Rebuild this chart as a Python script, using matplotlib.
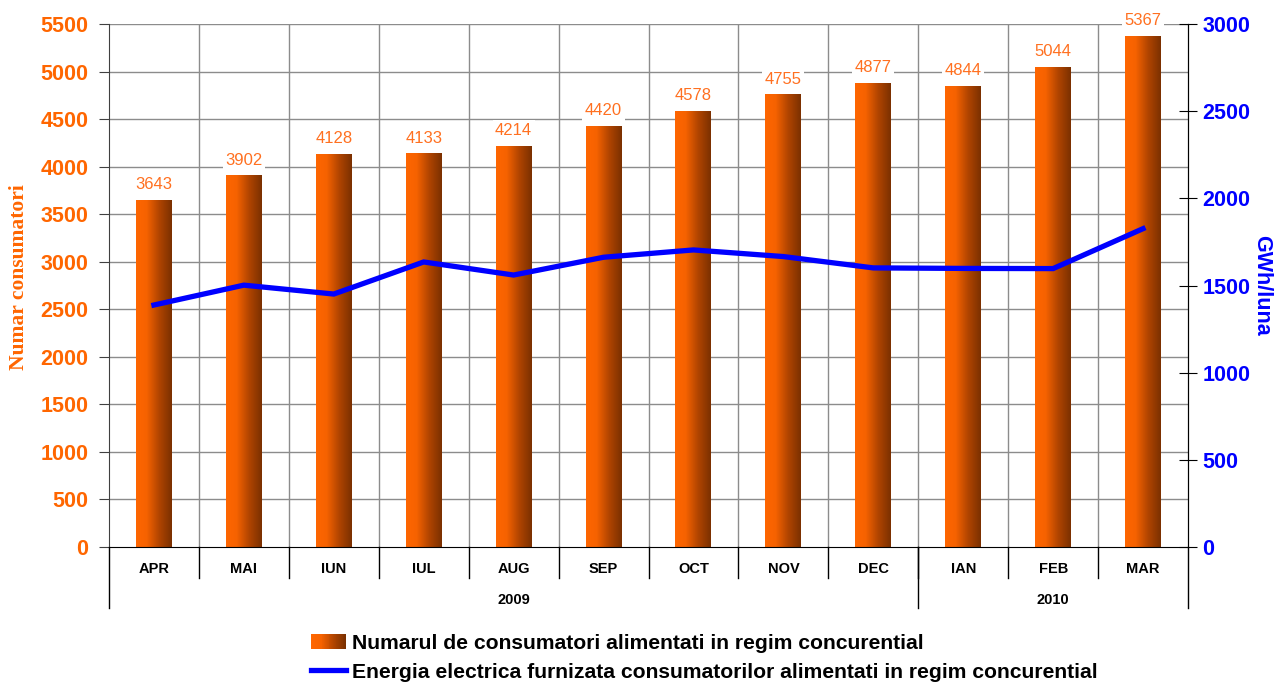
import matplotlib
matplotlib.use("Agg")
import matplotlib.pyplot as plt
import numpy as np
from matplotlib.colors import LinearSegmentedColormap
from matplotlib.legend_handler import HandlerBase
from matplotlib.patches import Rectangle
from matplotlib.lines import Line2D
import matplotlib.transforms as mtransforms

months = ["APR", "MAI", "IUN", "IUL", "AUG", "SEP", "OCT", "NOV", "DEC", "IAN", "FEB", "MAR"]
years = ["2009", "2010"]
year_counts = [9, 3]
consumers = [3643, 3902, 4128, 4133, 4214, 4420, 4578, 4755, 4877, 4844, 5044, 5367]
energy = [1388, 1502, 1451, 1635, 1560, 1662, 1704, 1666, 1601, 1598, 1597, 1826]

ORANGE = "#FF6600"
LABEL_ORANGE = "#FF7020"
BLUE = "#0000FF"
GRID = "#8c8c8c"
FONT = "Liberation Sans"

cmap = LinearSegmentedColormap.from_list(
    "bar", [(0, "#FF6600"), (0.3, "#F56200"), (0.65, "#B04400"), (1, "#7A3000")])

fig = plt.figure(figsize=(12.74, 6.84), dpi=100)
ax = fig.add_axes([109/1274, 1-547/684, (1188-109)/1274, (547-24)/684])
ax2 = ax.twinx()

n = len(months)
x = np.arange(n)
ax.set_xlim(-0.5, n-0.5)
ax.set_ylim(0, 5500)
ax2.set_ylim(0, 3000)

# grid
for yv in np.arange(500, 5501, 500):
    ax.axhline(yv, color=GRID, lw=1, zorder=0)
for xv in x[:-1] + 0.5:
    ax.axvline(xv, color=GRID, lw=1, zorder=0)

# gradient bars
w = 0.4
grad = np.linspace(0, 1, 256).reshape(1, -1)
for xi, v in zip(x, consumers):
    ax.imshow(grad, cmap=cmap, aspect="auto", extent=[xi - w/2, xi + w/2, 0, v],
              zorder=2, interpolation="bilinear")
    ax.annotate(str(v), (xi, v), xytext=(0, 6), textcoords="offset points",
                ha="center", va="bottom", color=LABEL_ORANGE, fontsize=12,
                family=FONT, zorder=5, annotation_clip=False,
                bbox=dict(boxstyle="square,pad=0.15", fc="white", ec="none"))
ax.set_xlim(-0.5, n-0.5)
ax.set_ylim(0, 5500)

ax2.plot(x, energy, color=BLUE, lw=3.8, solid_joinstyle="miter", zorder=4)

# axes styling
ax.set_yticks(np.arange(0, 5501, 500))
ax.set_yticklabels([str(v) for v in np.arange(0, 5501, 500)], color=ORANGE,
                   fontsize=15.5, fontweight="bold", family=FONT)
ax.tick_params(axis="y", direction="out", length=7, color="#404040", pad=8)
ax2.set_yticks(np.arange(0, 3001, 500))
ax2.set_yticklabels([str(v) for v in np.arange(0, 3001, 500)], color=BLUE,
                    fontsize=15.5, fontweight="bold", family=FONT)
ax2.tick_params(axis="y", direction="inout", length=13, color="black", pad=4)
ax.set_xticks([])
ax2.set_xticks([])
for a in (ax, ax2):
    a.spines["top"].set_visible(False)
ax.spines["left"].set_color("#404040")
ax.spines["bottom"].set_color("black")
ax2.spines["right"].set_color("black")
ax2.spines["left"].set_visible(False)
ax2.spines["bottom"].set_visible(False)

h_px = 547 - 24
w_px = 1188 - 109

ax.set_ylabel("Numar consumatori", color=ORANGE, fontsize=15.5, fontweight="bold",
              family="Liberation Serif")
ax.yaxis.label.set_verticalalignment("center")
ax.yaxis.label.set_horizontalalignment("center")
ax.yaxis.label.set_rotation_mode("default")
ax.yaxis.set_label_coords((19 - 109) / w_px, (547 - 277) / h_px)

ax2.set_ylabel("GWh/luna", color=BLUE, fontsize=15.5, fontweight="bold",
               family=FONT, rotation=270)
ax2.yaxis.label.set_verticalalignment("center")
ax2.yaxis.label.set_horizontalalignment("center")
ax2.yaxis.label.set_rotation_mode("default")
ax2.yaxis.set_label_coords((1262 - 109) / w_px, (547 - 285) / h_px)

# multi-level category axis
trans = mtransforms.blended_transform_factory(ax.transData, ax.transAxes)
row1 = -31 / h_px
row2 = -61 / h_px
for xv in x[:-1] + 0.5:
    ax.plot([xv, xv], [0, row1], color="black", lw=1, transform=trans, clip_on=False)
for xi, m in zip(x, months):
    ax.text(xi, -22 / h_px, m, transform=trans, ha="center", va="center",
            fontsize=10.5, fontweight="bold", family=FONT)
start = 0
bounds = [-0.5]
for yr, c in zip(years, year_counts):
    end = start + c
    bounds.append(end - 0.5)
    ax.text((start + end - 1) / 2, -53 / h_px, yr, transform=trans,
            ha="center", va="center", fontsize=10.5, fontweight="bold", family=FONT)
    start = end
for b in bounds:
    ax.plot([b, b], [0, row2], color="black", lw=1, transform=trans, clip_on=False)


class HandlerGradient(HandlerBase):
    def create_artists(self, legend, orig_handle, xdescent, ydescent, width, height, fontsize, trans):
        arts = []
        k = 40
        for i in range(k):
            r = Rectangle((-xdescent + width * i / k, -ydescent), width / k + 0.3, height,
                          facecolor=cmap(i / (k - 1)), edgecolor="none", transform=trans)
            arts.append(r)
        return arts


bar_handle = Rectangle((0, 0), 1, 1)
line_handle = Line2D([], [], color=BLUE, lw=3.8)
fig.legend([bar_handle, line_handle],
           ["Numarul de consumatori alimentati in regim concurential",
            "Energia electrica furnizata consumatorilor alimentati in regim concurential"],
           handler_map={Rectangle: HandlerGradient()},
           loc="upper left", bbox_to_anchor=(311/1274, 1 - 634/684),
           frameon=False, borderpad=0, borderaxespad=0, handlelength=1.66,
           handleheight=0.7, handletextpad=0.28, labelspacing=0.45,
           prop=dict(family=FONT, weight="bold", size=15.2))

fig.savefig("out.png", dpi=100)
